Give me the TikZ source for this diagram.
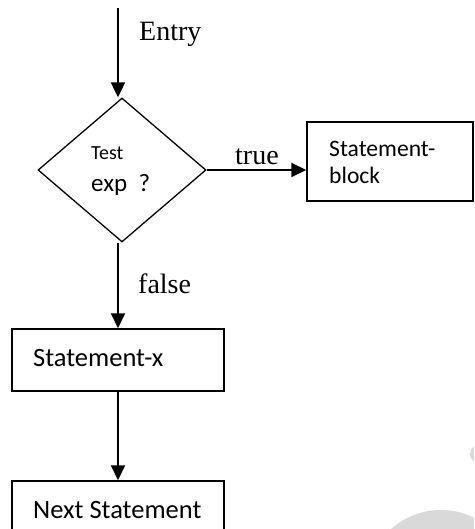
\documentclass[tikz,border=0pt]{standalone}
\usepackage{fontspec}
\newfontfamily\carlito{Carlito}
\newfontfamily\seriflabel{Liberation Serif}
\usetikzlibrary{arrows.meta,shapes.geometric}
\tikzset{
  box/.style={draw, line width=1.5pt, rectangle, inner sep=0pt},
  arr/.style={line width=2pt, -{Triangle[length=15pt,width=14pt]}},
  serif/.style={anchor=base west, inner sep=0pt, font=\seriflabel\fontsize{28}{32}\selectfont},
  sans/.style={anchor=base west, inner sep=0pt, font=\carlito\fontsize{26.5}{32}\selectfont},
  greydisc/.style={fill=black!15, draw=none}
}
\begin{document}
\begin{tikzpicture}[x=1pt,y=1pt]
\useasboundingbox (0,0) rectangle (474,-529);
\clip (0,0) rectangle (474,-529);
\fill[white] (0,0) rectangle (474,-529);

% faint grey discs in the lower right corner
\fill[greydisc] (479,-454) circle (9);
\fill[greydisc] (441,-585) circle (75);

% decision
\node[diamond, draw, line width=1.3pt, minimum width=168pt, minimum height=144pt, inner sep=0pt] (test) at (122,-170) {};
\node[anchor=base west, inner sep=0pt, font=\carlito\fontsize{20}{24}\selectfont] (testlbl) at (91,-160) {Test};
\node[sans, font=\carlito\fontsize{25}{30}\selectfont] (explbl) at (91,-192) {exp\ \ ?};

% boxes
\node[box, minimum width=166pt, minimum height=79pt] (blk) at (390,-161.5) {};
\node[anchor=base west, inner sep=0pt, font=\carlito\fontsize{23.6}{27}\selectfont] (blklbl1) at (329,-157) {Statement-};
\node[anchor=base west, inner sep=0pt, font=\carlito\fontsize{23.6}{27}\selectfont] (blklbl2) at (329,-184) {block};

\node[box, minimum width=212pt, minimum height=62pt] (sx) at (118,-360) {};
\node[sans] (sxlbl) at (33,-366) {Statement-x};

\node[box, minimum width=212pt, minimum height=62pt] (nx) at (118,-512) {};
\node[sans] (nxlbl) at (33,-518) {Next Statement};

% connectors
\coordinate (entry) at (118,-8);
\draw[arr] (entry) -- (entry |- test.north);
\draw[arr] (test.east) -- (test.east -| blk.west);
\draw[arr] (test.south -| sx.north) -- (sx.north);
\draw[arr] (sx.south) -- (nx.north);

% labels
\node[serif] (entrylbl) at (139,-41) {Entry};
\node[serif] (truelbl) at (235,-165) {true};
\node[serif] (falselbl) at (138,-293) {false};
\end{tikzpicture}
\end{document}
